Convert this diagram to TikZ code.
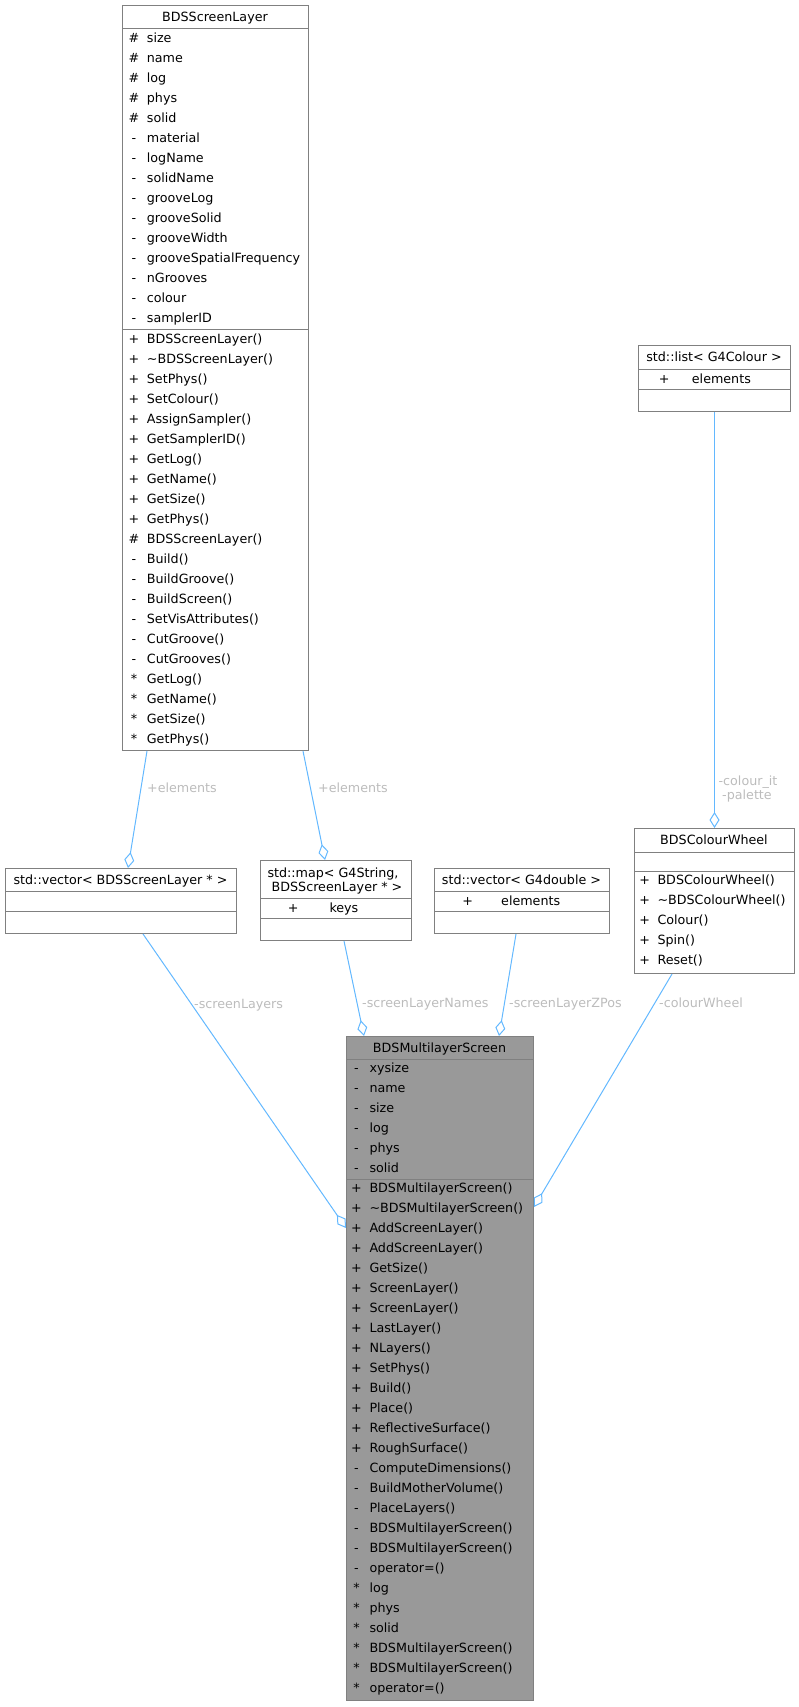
\documentclass[tikz,border=0pt]{standalone}
\usepackage{fontspec}
\setmainfont{DejaVu Sans}
\usetikzlibrary{arrows.meta,calc}
\definecolor{edgecol}{HTML}{63B8FF}
\definecolor{labcol}{HTML}{BCBCBC}
\definecolor{boxcol}{HTML}{808080}
\definecolor{mlfill}{HTML}{999999}
\newcommand\classrows[5]{%
  \foreach [count=\i] \m/\t in {#5} {
    \node[mk] (#1m\i) at (#2, {#4+20*(\i-1)}) {\m};
    \node[nm] (#1t\i) at (#3, {#4+20*(\i-1)}) {\t};
  }}
\begin{document}
\begin{tikzpicture}[x=1pt,y=-1pt,
  every node/.style={font=\fontsize{12.7}{14}\selectfont, inner sep=0pt, text height=9pt, text depth=0pt},
  cls/.style={draw=boxcol, line width=1pt, fill=white, rectangle, anchor=north west, inner sep=0pt},
  sepline/.style={draw=boxcol, line width=1pt},
  mk/.style={anchor=center},
  nm/.style={anchor=west},
  ttl/.style={anchor=center},
  lab/.style={anchor=west, text=labcol},
  agg/.style={draw=edgecol, line width=1pt, {Diamond[open,length=16pt,width=10pt]}-}
]
\useasboundingbox (0,0) rectangle (799,1707);

% ---------- BDSScreenLayer
\node[cls, minimum width=186pt, minimum height=745pt] (sl) at (122,5) {};
\draw[sepline] ($(sl.north west)+(0,24)$) -- ($(sl.north east)+(0,24)$);
\draw[sepline] ($(sl.north west)+(0,324)$) -- ($(sl.north east)+(0,324)$);
\node[ttl] (slttl) at (215,17.5) {BDSScreenLayer};
\classrows{sla}{134}{146.7}{38}{\#/size,\#/name,\#/log,\#/phys,\#/solid,-/material,-/logName,-/solidName,-/grooveLog,-/grooveSolid,-/grooveWidth,-/grooveSpatialFrequency,-/nGrooves,-/colour,-/samplerID}
\classrows{slo}{134}{146.7}{339}{+/BDSScreenLayer(),+/\textasciitilde BDSScreenLayer(),+/SetPhys(),+/SetColour(),+/AssignSampler(),+/GetSamplerID(),+/GetLog(),+/GetName(),+/GetSize(),+/GetPhys(),\#/BDSScreenLayer(),-/Build(),-/BuildGroove(),-/BuildScreen(),-/SetVisAttributes(),-/CutGroove(),-/CutGrooves(),*/GetLog(),*/GetName(),*/GetSize(),*/GetPhys()}

% ---------- std::vector< BDSScreenLayer * >
\node[cls, minimum width=231pt, minimum height=65pt] (vec) at (5,868) {};
\draw[sepline] ($(vec.north west)+(0,23)$) -- ($(vec.north east)+(0,23)$);
\draw[sepline] ($(vec.north west)+(0,43)$) -- ($(vec.north east)+(0,43)$);
\node[ttl] (vecttl) at (120.5,880) {std::vector< BDSScreenLayer * >};

% ---------- std::map< G4String, BDSScreenLayer * >
\node[cls, minimum width=151pt, minimum height=80pt] (map) at (260,860) {};
\draw[sepline] ($(map.north west)+(0,38)$) -- ($(map.north east)+(0,38)$);
\draw[sepline] ($(map.north west)+(0,58)$) -- ($(map.north east)+(0,58)$);
\node[ttl] (mapttlA) at (333,872.7) {std::map< G4String,};
\node[ttl] (mapttlB) at (337,886.7) {BDSScreenLayer * >};
\node[mk] (mapm) at (293.3,908) {+};
\node[nm] (mapt) at (329.3,908) {keys};

% ---------- std::vector< G4double >
\node[cls, minimum width=175pt, minimum height=65pt] (dbl) at (434,868) {};
\draw[sepline] ($(dbl.north west)+(0,23)$) -- ($(dbl.north east)+(0,23)$);
\draw[sepline] ($(dbl.north west)+(0,43)$) -- ($(dbl.north east)+(0,43)$);
\node[ttl] (dblttl) at (521.5,880) {std::vector< G4double >};
\node[mk] (dblm) at (467.7,901) {+};
\node[nm] (dblt) at (501,901) {elements};

% ---------- std::list< G4Colour >
\node[cls, minimum width=152pt, minimum height=66pt] (lst) at (638,345) {};
\draw[sepline] ($(lst.north west)+(0,24)$) -- ($(lst.north east)+(0,24)$);
\draw[sepline] ($(lst.north west)+(0,44)$) -- ($(lst.north east)+(0,44)$);
\node[ttl] (lstttl) at (714,357.3) {std::list< G4Colour >};
\node[mk] (lstm) at (664.3,378.5) {+};
\node[nm] (lstt) at (691.7,378.5) {elements};

% ---------- BDSColourWheel
\node[cls, minimum width=160pt, minimum height=145pt] (cw) at (634,828) {};
\draw[sepline] ($(cw.north west)+(0,24)$) -- ($(cw.north east)+(0,24)$);
\draw[sepline] ($(cw.north west)+(0,43)$) -- ($(cw.north east)+(0,43)$);
\node[ttl] (cwttl) at (714,840) {BDSColourWheel};
\classrows{cwo}{644.7}{657.3}{880}{+/BDSColourWheel(),+/\textasciitilde BDSColourWheel(),+/Colour(),+/Spin(),+/Reset()}

% ---------- BDSMultilayerScreen
\node[cls, fill=mlfill, minimum width=187pt, minimum height=664pt] (ml) at (346,1036) {};
\draw[sepline] ($(ml.north west)+(0,23)$) -- ($(ml.north east)+(0,23)$);
\draw[sepline] ($(ml.north west)+(0,143)$) -- ($(ml.north east)+(0,143)$);
\node[ttl] (mlttl) at (439.5,1048) {BDSMultilayerScreen};
\classrows{mla}{356.5}{369.3}{1068}{-/xysize,-/name,-/size,-/log,-/phys,-/solid}
\classrows{mlo}{356.5}{369.3}{1188}{+/BDSMultilayerScreen(),+/\textasciitilde BDSMultilayerScreen(),+/AddScreenLayer(),+/AddScreenLayer(),+/GetSize(),+/ScreenLayer(),+/ScreenLayer(),+/LastLayer(),+/NLayers(),+/SetPhys(),+/Build(),+/Place(),+/ReflectiveSurface(),+/RoughSurface(),-/ComputeDimensions(),-/BuildMotherVolume(),-/PlaceLayers(),-/BDSMultilayerScreen(),-/BDSMultilayerScreen(),-/operator=(),*/log,*/phys,*/solid,*/BDSMultilayerScreen(),*/BDSMultilayerScreen(),*/operator=()}

% ---------- connectors
\draw[agg] ($(vec.north west)+(123,0)$) -- ($(sl.south west)+(25,0)$);
\draw[agg] ($(map.north west)+(65,0)$) -- ($(sl.south east)+(-6,0)$);
\draw[agg] (cw.north) -- (lst.south);
\draw[agg] ($(ml.north west)+(0,192)$) -- ($(vec.south west)+(138,0)$);
\draw[agg] ($(ml.north west)+(18,0)$) -- ($(map.south west)+(84,0)$);
\draw[agg] ($(ml.north west)+(153,0)$) -- ($(dbl.south west)+(82,0)$);
\draw[agg] ($(ml.north east)+(0,171)$) -- ($(cw.south west)+(38,0)$);

% ---------- edge labels
\node[lab] (l1) at (147,788) {+elements};
\node[lab] (l2) at (318,788) {+elements};
\node[lab, anchor=center] (l3) at (748,781) {-colour\_it};
\node[lab, anchor=center] (l4) at (747,795) {-palette};
\node[lab] (l5) at (194,1004) {-screenLayers};
\node[lab] (l6) at (362,1003) {-screenLayerNames};
\node[lab] (l7) at (509,1003) {-screenLayerZPos};
\node[lab] (l8) at (659,1003) {-colourWheel};
\end{tikzpicture}
\end{document}
